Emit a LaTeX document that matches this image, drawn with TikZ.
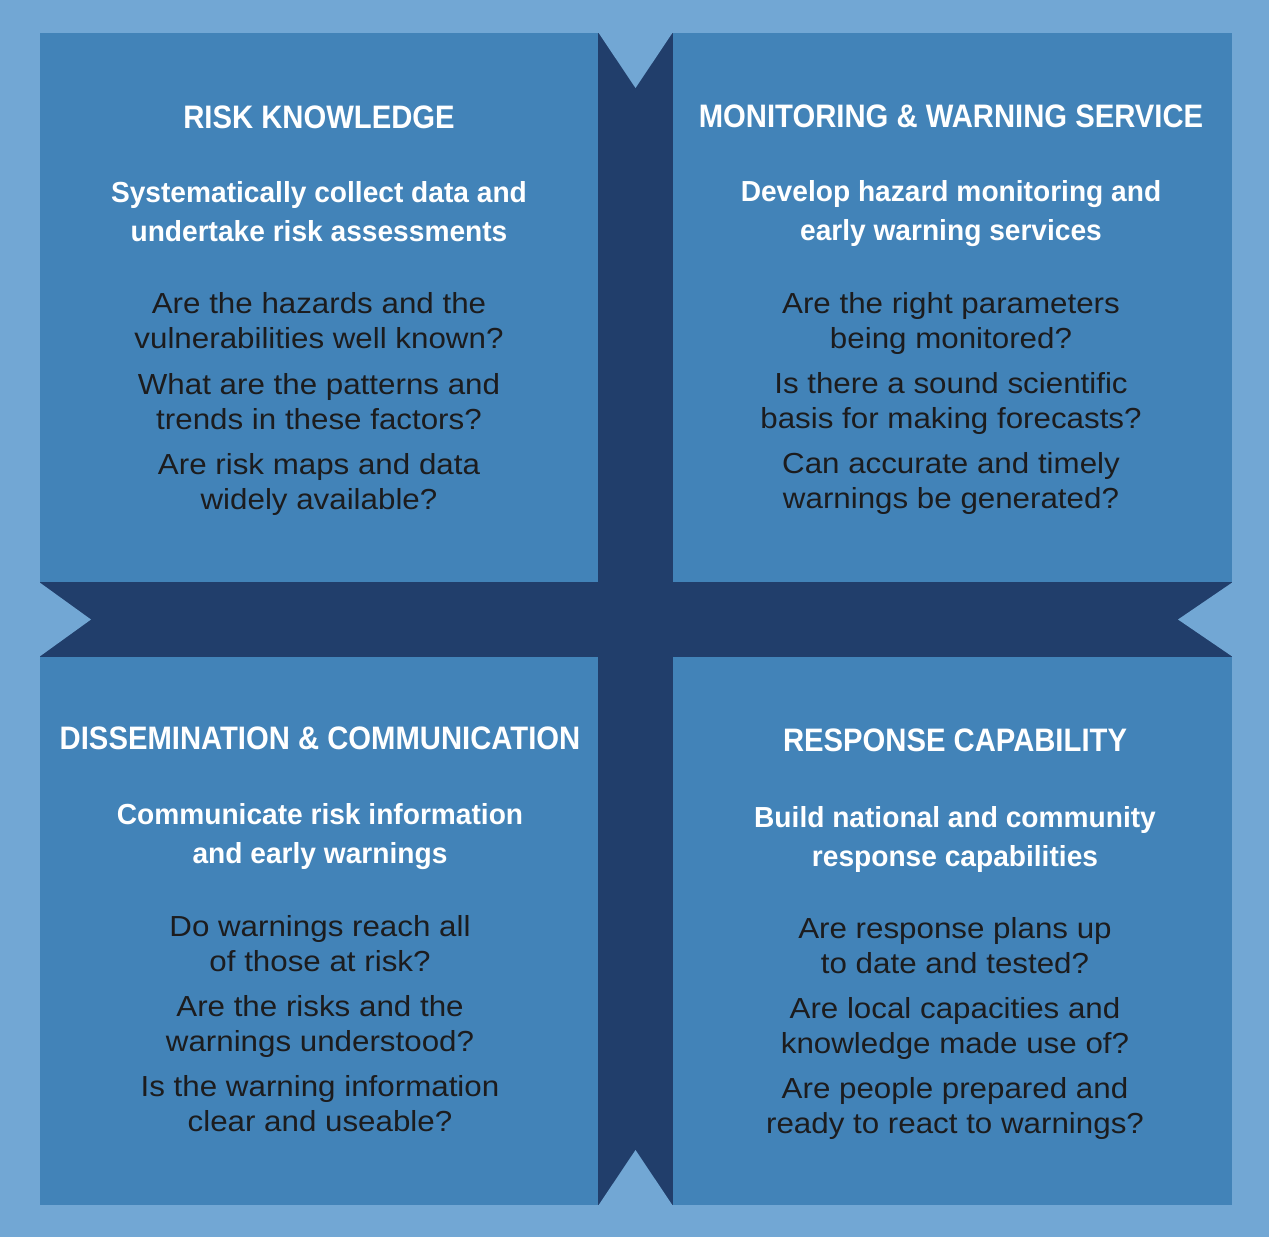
\documentclass[tikz,border=0pt]{standalone}
\usepackage{fontspec}
\setmainfont{Liberation Sans}
\newfontfamily\titlefont[FakeStretch=0.90]{Liberation Sans}
\newfontfamily\subfont[FakeStretch=0.97]{Liberation Sans}
\newfontfamily\bodyfont[FakeStretch=1.08]{Liberation Sans}
\definecolor{bgblue}{HTML}{72A7D4}
\definecolor{boxblue}{HTML}{4283B8}
\definecolor{navy}{HTML}{213E6B}
\definecolor{ink}{HTML}{1C1C1E}
\tikzset{
  panel/.style={fill=boxblue, draw=none},
  notch/.style={fill=bgblue, draw=none},
  headtext/.style={text=white, inner sep=0pt, font=\titlefont\bfseries\fontsize{32.5}{38}\selectfont},
  subtext/.style={text=white, inner sep=0pt, align=center, font=\subfont\bfseries\fontsize{29}{39}\selectfont,
    execute at begin node=\strut, execute at end node=\strut},
  qtext/.style={text=ink, inner sep=0pt, align=center, font=\bodyfont\fontsize{29}{35}\selectfont,
    execute at begin node=\strut, execute at end node=\strut}
}
\begin{document}
\begin{tikzpicture}[x=1pt,y=-1pt]
\useasboundingbox (0,0) rectangle (1269,1237);
\fill[bgblue] (0,0) rectangle (1269,1237);
% cross
\fill[navy] (40,33) rectangle (1232,1205);
% panels
\fill[panel] (40,33) rectangle (598,582);
\fill[panel] (673,33) rectangle (1232,582);
\fill[panel] (40,657) rectangle (598,1205);
\fill[panel] (673,657) rectangle (1232,1205);
% notches
\fill[notch] (598,32) -- (635.5,88) -- (673,32) -- cycle;
\fill[notch] (598,1206) -- (635.5,1150) -- (673,1206) -- cycle;
\fill[notch] (39,582) -- (91,619.5) -- (39,657) -- cycle;
\fill[notch] (1233,582) -- (1178,619.5) -- (1233,657) -- cycle;
% top left
\node[headtext] (tlh) at (319,117) {RISK KNOWLEDGE};
\node[subtext] (tls) at (319,217.3) {Systematically collect data and\\undertake risk assessments};
\node[qtext] (tlq1) at (319,325.6) {Are the hazards and the\\vulnerabilities well known?};
\node[qtext] (tlq2) at (319,406.6) {What are the patterns and\\trends in these factors?};
\node[qtext] (tlq3) at (319,486.6) {Are risk maps and data\\widely available?};
% top right
\node[headtext] (trh) at (951,116) {MONITORING \& WARNING SERVICE};
\node[subtext] (trs) at (951,216.3) {Develop hazard monitoring and\\early warning services};
\node[qtext] (trq1) at (951,325.6) {Are the right parameters\\being monitored?};
\node[qtext] (trq2) at (951,405.6) {Is there a sound scientific\\basis for making forecasts?};
\node[qtext] (trq3) at (951,485.6) {Can accurate and timely\\warnings be generated?};
% bottom left
\node[headtext] (blh) at (320,738) {DISSEMINATION \& COMMUNICATION};
\node[subtext] (bls) at (320,839.3) {Communicate risk information\\and early warnings};
\node[qtext] (blq1) at (320,948.6) {Do warnings reach all\\of those at risk?};
\node[qtext] (blq2) at (320,1028.6) {Are the risks and the\\warnings understood?};
\node[qtext] (blq3) at (320,1108.6) {Is the warning information\\clear and useable?};
% bottom right
\node[headtext] (brh) at (955,740) {RESPONSE CAPABILITY};
\node[subtext] (brs) at (955,842.3) {Build national and community\\response capabilities};
\node[qtext] (brq1) at (955,950.6) {Are response plans up\\to date and tested?};
\node[qtext] (brq2) at (955,1030.6) {Are local capacities and\\knowledge made use of?};
\node[qtext] (brq3) at (955,1110.6) {Are people prepared and\\ready to react to warnings?};
\end{tikzpicture}
\end{document}
